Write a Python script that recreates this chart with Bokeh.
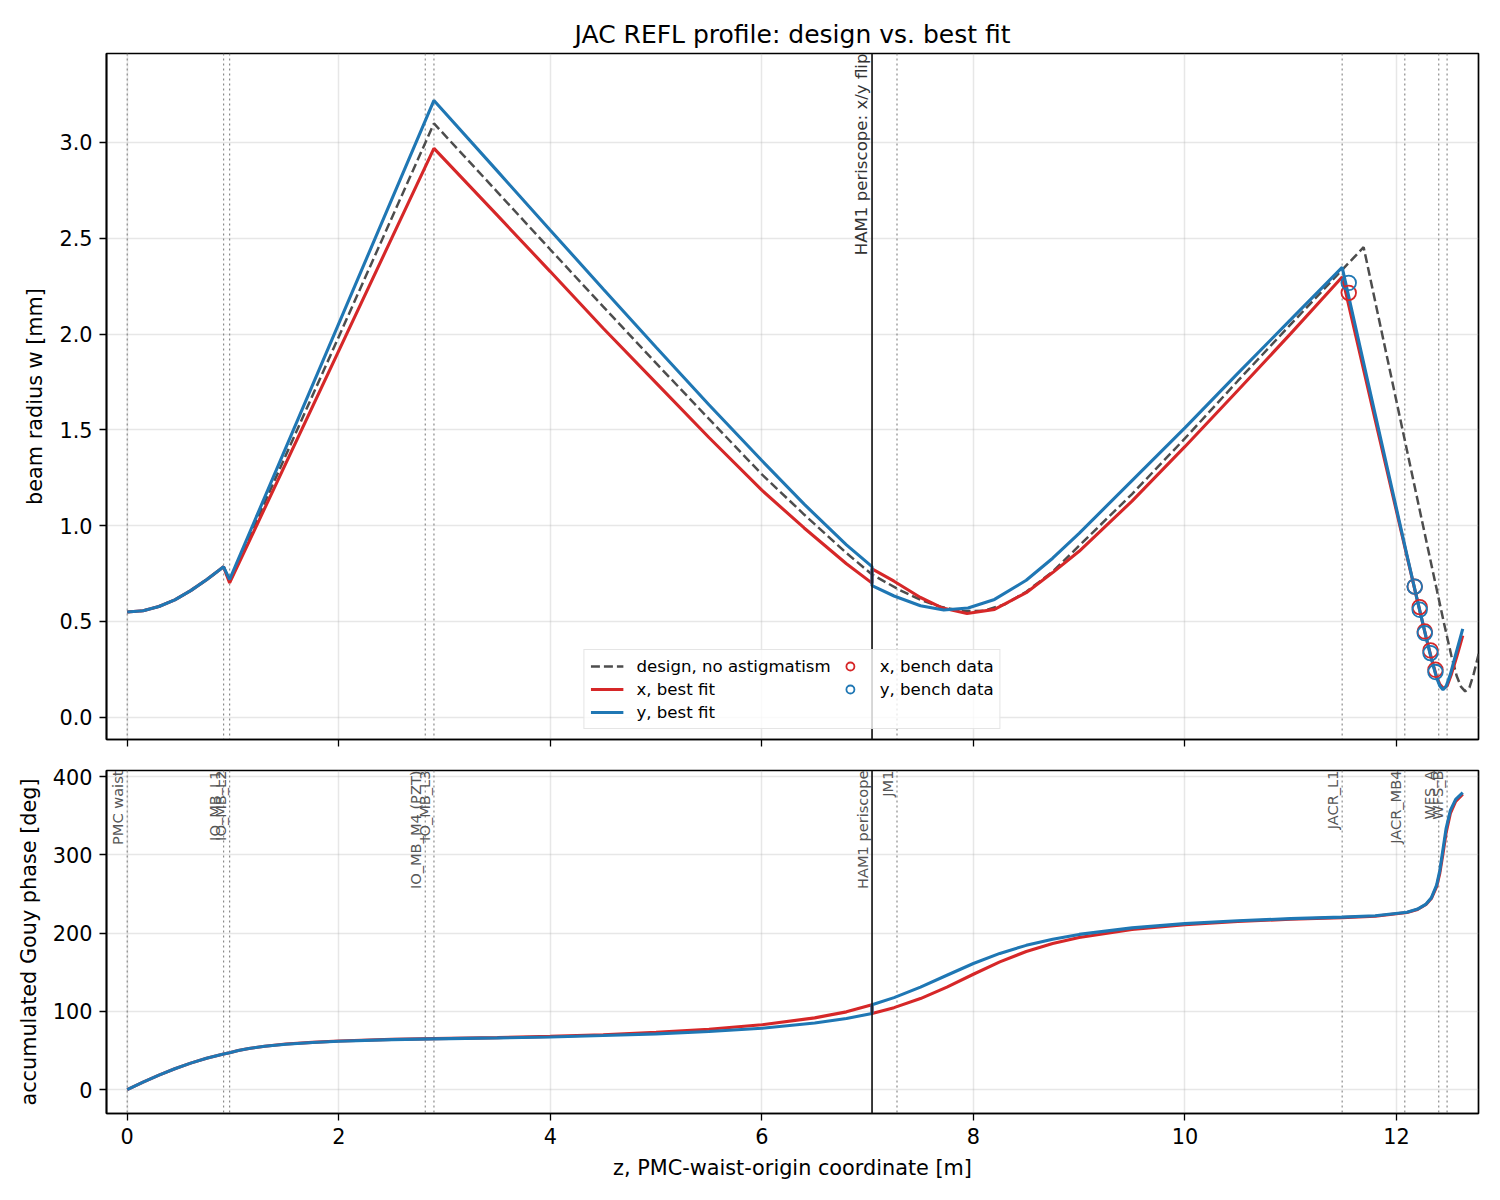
import numpy as np
from bokeh.plotting import figure
from bokeh.models import (Range1d, FixedTicker, NumeralTickFormatter, Span, Legend,
                          LegendItem, ColumnDataSource, Title)
from bokeh.layouts import column
from bokeh.embed import file_html
from bokeh.resources import INLINE
from bokeh.core.properties import value

FONT = "DejaVu Sans"
RED = "#d62728"
BLUE = "#1f77b4"
DESIGN = "#4d4d4d"

# ---------------- data ----------------
elem_z = [0.0, 0.911, 0.968, 2.818, 2.90, 7.042, 7.278, 11.487, 12.079, 12.40, 12.479]
elem_names = ["PMC waist", "IO_MB_L1", "IO_MB_L2", "IO_MB_M4 (PZT)", "IO_MB_L3",
              "HAM1 periscope", "JM1", "JACR_L1", "JACR_MB4", "WFS_A", "WFS_B"]
periscope_z = 7.042
periscope_label = "HAM1 periscope: x/y flip"

# beam radius, x best fit [mm]
z_x = [0.0, 0.15, 0.3, 0.45, 0.6, 0.75, 0.911, 0.968, 2.90, 3.5, 4.0, 4.5, 5.0, 5.5,
       6.0, 6.4, 6.8, 7.042, 7.042, 7.25, 7.5, 7.7, 7.94, 8.2, 8.5, 8.75, 9.0, 9.5,
       10.0, 10.5, 11.0, 11.487, 11.8, 12.1, 12.2, 12.28, 12.33, 12.38, 12.41, 12.445,
       12.48, 12.52, 12.57, 12.627]
w_x = [0.549, 0.556, 0.578, 0.613, 0.661, 0.718, 0.785, 0.701, 2.969, 2.619, 2.326,
       2.030, 1.745, 1.460, 1.185, 0.988, 0.801, 0.700, 0.774, 0.710, 0.625, 0.572,
       0.542, 0.563, 0.650, 0.755, 0.866, 1.128, 1.412, 1.705, 2.002, 2.298, 1.550,
       0.840, 0.605, 0.420, 0.310, 0.212, 0.172, 0.150, 0.165, 0.225, 0.315, 0.426]

# beam radius, y best fit [mm]
z_y = [0.0, 0.15, 0.3, 0.45, 0.6, 0.75, 0.911, 0.968, 2.90, 3.5, 4.0, 4.5, 5.0, 5.5,
       6.0, 6.4, 6.8, 7.042, 7.042, 7.25, 7.5, 7.72, 7.95, 8.2, 8.5, 8.75, 9.0, 9.5,
       10.0, 10.5, 11.0, 11.487, 11.8, 12.1, 12.2, 12.28, 12.33, 12.38, 12.41, 12.44,
       12.47, 12.51, 12.56, 12.627]
w_y = [0.549, 0.556, 0.578, 0.613, 0.661, 0.718, 0.785, 0.719, 3.219, 2.850, 2.542,
       2.235, 1.931, 1.631, 1.340, 1.112, 0.900, 0.786, 0.687, 0.633, 0.582, 0.560,
       0.570, 0.615, 0.715, 0.830, 0.960, 1.235, 1.510, 1.795, 2.075, 2.348, 1.580,
       0.845, 0.605, 0.418, 0.305, 0.206, 0.163, 0.144, 0.162, 0.224, 0.327, 0.461]

# design, no astigmatism [mm]
z_d = [0.0, 0.15, 0.3, 0.45, 0.6, 0.75, 0.911, 0.968, 2.90, 3.5, 4.0, 4.5, 5.0, 5.5,
       6.0, 6.4, 6.8, 7.042, 7.3, 7.5, 7.7, 7.9, 8.1, 8.3, 8.5, 8.75, 9.0, 9.5, 10.0,
       10.5, 11.0, 11.487, 11.69, 12.0, 12.3, 12.45, 12.52, 12.57, 12.61, 12.65, 12.69,
       12.73, 12.78]
w_d = [0.549, 0.556, 0.578, 0.613, 0.661, 0.718, 0.785, 0.710, 3.099, 2.741, 2.441,
       2.143, 1.848, 1.557, 1.268, 1.058, 0.857, 0.745, 0.665, 0.613, 0.575, 0.553,
       0.556, 0.590, 0.655, 0.760, 0.895, 1.165, 1.455, 1.755, 2.050, 2.335, 2.453,
       1.650, 0.875, 0.490, 0.320, 0.215, 0.160, 0.135, 0.155, 0.225, 0.335]

# bench data [mm]
bench_z = [11.549, 12.173, 12.22, 12.268, 12.322, 12.369]
bench_wx = [2.215, 0.682, 0.575, 0.448, 0.349, 0.248]
bench_wy = [2.267, 0.682, 0.561, 0.439, 0.335, 0.236]

# accumulated Gouy phase [deg]
z_g = [0.0, 0.15, 0.3, 0.45, 0.6, 0.75, 0.911, 0.968, 1.05, 1.15, 1.3, 1.5, 1.75, 2.0,
       2.5, 2.9, 3.5, 4.0, 4.5, 5.0, 5.5, 6.0, 6.5, 6.8, 7.042, 7.042, 7.25, 7.5, 7.75,
       8.0, 8.25, 8.5, 8.75, 9.0, 9.5, 10.0, 10.5, 11.0, 11.487, 11.8, 12.1, 12.2,
       12.28, 12.33, 12.38, 12.41, 12.44, 12.47, 12.51, 12.56, 12.627]
gouy_x = [0.0, 9.6, 18.6, 26.8, 34.0, 40.1, 45.7, 47.3, 50.0, 52.7, 55.6, 58.4, 60.5,
          62.2, 64.3, 65.3, 66.6, 68.2, 70.2, 73.3, 77.2, 83.0, 91.8, 99.5, 108.5, 97.5,
          104.9, 116.5, 131.2, 147.6, 163.4, 176.7, 186.9, 194.6, 204.7, 210.9, 215.0,
          217.9, 220.0, 221.8, 226.4, 230.4, 236.7, 244.3, 259.6, 276.6, 301.7, 328.7,
          353.2, 368.4, 377.8]
gouy_y = [0.0, 9.6, 18.6, 26.8, 34.0, 40.1, 45.7, 47.3, 50.0, 52.7, 55.5, 58.2, 60.3,
          62.0, 64.0, 65.0, 66.2, 67.4, 69.2, 71.4, 74.4, 78.5, 85.3, 91.0, 97.5, 108.5,
          117.7, 131.2, 146.3, 161.3, 174.2, 184.5, 192.4, 198.5, 206.9, 212.3, 216.0,
          218.7, 220.6, 222.3, 226.9, 230.9, 237.3, 245.2, 261.5, 280.1, 307.1, 334.1,
          357.1, 371.0, 379.6]

x_ticks = [0, 2, 4, 6, 8, 10, 12]
w_ticks = [0.0, 0.5, 1.0, 1.5, 2.0, 2.5, 3.0]
g_ticks = [0, 100, 200, 300, 400]

X_RANGE = (-0.196, 12.776)
W_RANGE = (-0.116, 3.464)
G_RANGE = (-30.4, 408.0)

# ---------------- figures ----------------
xr = Range1d(*X_RANGE)


def style(p):
    p.background_fill_color = "white"
    p.border_fill_color = "white"
    p.outline_line_color = "black"
    p.outline_line_width = 1.7
    for g in (p.xgrid, p.ygrid):
        g.grid_line_color = "#b0b0b0"
        g.grid_line_alpha = 0.3
        g.grid_line_width = 1.5
    for ax in p.axis:
        ax.axis_line_color = "black"
        ax.axis_line_width = 1.7
        ax.major_tick_line_color = "black"
        ax.major_tick_line_width = 1.3
        ax.major_tick_out = 7
        ax.major_tick_in = 0
        ax.minor_tick_line_color = None
        ax.major_label_text_font = FONT
        ax.major_label_text_font_size = "20.8px"
        ax.major_label_text_color = "black"
        ax.major_label_standoff = 7
        ax.axis_label_text_font = FONT
        ax.axis_label_text_font_size = "20.8px"
        ax.axis_label_text_font_style = "normal"
        ax.axis_label_text_color = "black"
        ax.axis_label_standoff = 9


def add_spans(p):
    for z in elem_z:
        if z == periscope_z:
            continue
        p.add_layout(Span(location=z, dimension="height", line_color="#808080",
                          line_width=1.2, line_dash="2 3", line_alpha=0.9, level="underlay"))


def add_periscope(p):
    p.add_layout(Span(location=periscope_z, dimension="height", line_color="#1a1a1a",
                      line_width=1.7))


# top: beam radius
p1 = figure(frame_width=1372, frame_height=686, min_border_left=106, min_border_right=14,
            min_border_top=53, min_border_bottom=20, x_range=xr,
            y_range=Range1d(*W_RANGE), output_backend="svg", toolbar_location=None)
p1.title = Title(text="JAC REFL profile: design vs. best fit", align="center",
                 text_font=FONT, text_font_size="25px", text_font_style="normal",
                 text_color="black", standoff=10)
style(p1)
p1.xaxis.ticker = FixedTicker(ticks=x_ticks)
p1.xaxis.major_label_text_font_size = "1px"
p1.xaxis.major_label_text_color = None
p1.xaxis.major_label_standoff = 0
p1.yaxis.ticker = FixedTicker(ticks=w_ticks)
p1.yaxis.formatter = NumeralTickFormatter(format="0.0")
p1.yaxis.axis_label = "beam radius w [mm]"
add_spans(p1)

r_d = p1.line(z_d, w_d, line_color=DESIGN, line_width=2.5, line_dash="9 4")
r_x = p1.line(z_x, w_x, line_color=RED, line_width=3.1)
r_y = p1.line(z_y, w_y, line_color=BLUE, line_width=3.1)
r_bx = p1.scatter(bench_z, bench_wx, marker="circle", size=14.6, fill_color=None,
                  line_color=RED, line_width=1.8)
r_by = p1.scatter(bench_z, bench_wy, marker="circle", size=14.6, fill_color=None,
                  line_color=BLUE, line_width=1.8)
add_periscope(p1)
p1.text(x=[periscope_z], y=[W_RANGE[1]], text=[periscope_label], angle=np.pi / 2,
        text_align="right", text_baseline="bottom", text_font=value(FONT),
        text_font_size="16.6px", text_color="#333333", x_offset=-1)

legend = Legend(items=[
    LegendItem(label="design, no astigmatism", renderers=[r_d]),
    LegendItem(label="x, best fit", renderers=[r_x]),
    LegendItem(label="y, best fit", renderers=[r_y]),
    LegendItem(label="x, bench data", renderers=[r_bx]),
    LegendItem(label="y, bench data", renderers=[r_by]),
], location="bottom_center", ncols=2)
legend.label_text_font = FONT
legend.label_text_font_size = "16.6px"
legend.label_text_color = "black"
legend.label_height = 20
legend.glyph_height = 20
legend.glyph_width = 33
legend.label_standoff = 13
legend.spacing = 3
legend.padding = 6
legend.margin = 10
legend.border_line_color = "#cccccc"
legend.border_line_width = 1.3
legend.background_fill_alpha = 0.8
p1.add_layout(legend)

# bottom: Gouy phase
p2 = figure(frame_width=1372, frame_height=343, min_border_left=106, min_border_right=14,
            min_border_top=11, min_border_bottom=70, x_range=xr,
            y_range=Range1d(*G_RANGE), output_backend="svg", toolbar_location=None)
style(p2)
p2.xaxis.ticker = FixedTicker(ticks=x_ticks)
p2.yaxis.ticker = FixedTicker(ticks=g_ticks)
p2.xaxis.axis_label = "z, PMC-waist-origin coordinate [m]"
p2.yaxis.axis_label = "accumulated Gouy phase [deg]"
add_spans(p2)
p2.line(z_g, gouy_x, line_color=RED, line_width=3.1)
p2.line(z_g, gouy_y, line_color=BLUE, line_width=3.1)
add_periscope(p2)
src = ColumnDataSource(dict(x=elem_z, y=[G_RANGE[1]] * len(elem_z), t=elem_names))
p2.text(x="x", y="y", text="t", source=src, angle=np.pi / 2, text_align="right",
        text_baseline="bottom", text_font=value(FONT), text_font_size="14.6px",
        text_color="#555555", x_offset=-1)

layout = column(p1, p2, spacing=0)
open("out.html", "w").write(file_html(layout, INLINE))
